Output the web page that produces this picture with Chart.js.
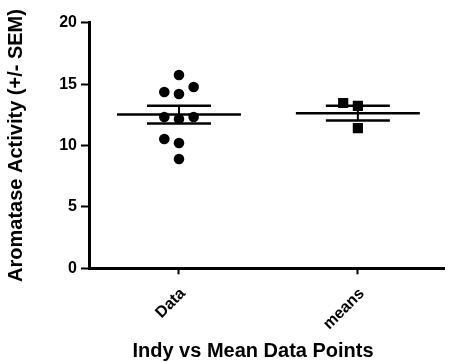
<!DOCTYPE html>
<html>
<head>
<meta charset="utf-8">
<script src="https://cdn.jsdelivr.net/npm/chart.js@4.4.1/dist/chart.umd.min.js"></script>
<style>
  html, body { margin: 0; padding: 0; background: #fff; }
  #wrap { width: 452px; height: 362px; position: relative; }
</style>
</head>
<body>
<div id="wrap"><canvas id="c" width="452" height="362"></canvas></div>
<script>
// ---- data ----
const categories = ['Data', 'means'];
const dataValues = [15.74, 14.36, 14.76, 14.19, 12.32, 12.16, 12.32, 10.53, 10.20, 8.90];
const dataColumns = [0, -1, 1, 0, -1, 0, 1, -1, 0, 0];
const meansValues = [13.46, 13.22, 11.42];
const meansColumns = [-1, 0, 0];
const groupMeans = [12.52, 12.63];
const groupSems = [0.72, 0.6];
const yTicks = [0, 5, 10, 15, 20];
const yTitle = 'Aromatase Activity (+/- SEM)';
const xTitle = 'Indy vs Mean Data Points';

const FONT = '"Liberation Sans", Arial, sans-serif';
const colStep = 0.082;

function toPoints(values, cols, idx) {
  return values.map((v, k) => ({ x: idx + 1 + cols[k] * colStep, y: v }));
}

const meanSemPlugin = {
  id: 'meanSem',
  beforeDatasetsDraw(chart) {
    const { ctx, scales: { x, y } } = chart;
    const seg = (x1, y1, x2, y2) => { ctx.beginPath(); ctx.moveTo(x1, y1); ctx.lineTo(x2, y2); ctx.stroke(); };
    ctx.save();
    ctx.strokeStyle = '#000';
    groupMeans.forEach((m, i) => {
      const cx = x.getPixelForValue(i + 1);
      const ym = y.getPixelForValue(m);
      const yt = y.getPixelForValue(m + groupSems[i]);
      const yb = y.getPixelForValue(m - groupSems[i]);
      ctx.lineWidth = 2.5;
      seg(cx - 62, ym, cx + 62, ym);
      seg(cx - 32, yt, cx + 32, yt);
      seg(cx - 32, yb, cx + 32, yb);
      ctx.lineWidth = 2;
      seg(cx, yt, cx, yb);
    });
    ctx.restore();
  }
};

const xTitlePlugin = {
  id: 'xTitle',
  afterDraw(chart) {
    const ctx = chart.ctx;
    ctx.save();
    ctx.font = 'bold 20px ' + FONT;
    ctx.fillStyle = '#000';
    ctx.textAlign = 'center';
    ctx.textBaseline = 'middle';
    ctx.fillText(xTitle, 253, 351);
    ctx.restore();
  }
};

new Chart(document.getElementById('c'), {
  type: 'scatter',
  data: {
    datasets: [
      {
        label: categories[0],
        data: toPoints(dataValues, dataColumns, 0),
        pointStyle: 'circle',
        pointRadius: 5.3,
        pointHoverRadius: 5.3,
        backgroundColor: '#000',
        borderColor: '#000',
        borderWidth: 0
      },
      {
        label: categories[1],
        data: toPoints(meansValues, meansColumns, 1),
        pointStyle: 'rect',
        pointRadius: 7.2,
        pointHoverRadius: 7.2,
        backgroundColor: '#000',
        borderColor: '#000',
        borderWidth: 0
      }
    ]
  },
  options: {
    responsive: false,
    animation: false,
    events: [],
    layout: { padding: { top: 22.7, right: 0, bottom: 0, left: 0 } },
    plugins: { legend: { display: false }, tooltip: { enabled: false } },
    scales: {
      x: {
        type: 'linear',
        min: 0.497,
        max: 2.486,
        afterBuildTicks(scale) { scale.ticks = [{ value: 1 }, { value: 2 }]; },
        afterFit(scale) { scale.height = 93.7; },
        ticks: {
          callback: (v) => categories[Math.round(v) - 1],
          minRotation: 45,
          maxRotation: 45,
          autoSkip: false,
          color: '#000',
          padding: 10,
          labelOffset: 4,
          font: { family: FONT, size: 16, weight: 'bold' }
        },
        grid: { display: true, drawOnChartArea: false, drawTicks: true, tickLength: 6, tickWidth: 2, tickColor: '#000' },
        border: { display: true, color: '#000', width: 3 },
        title: { display: false }
      },
      y: {
        type: 'linear',
        min: 0,
        max: 20,
        afterBuildTicks(scale) { scale.ticks = yTicks.map(v => ({ value: v })); },
        afterFit(scale) { scale.width = 89; },
        ticks: {
          color: '#000',
          padding: 4,
          font: { family: FONT, size: 16, weight: 'bold' }
        },
        grid: { display: true, drawOnChartArea: false, drawTicks: true, tickLength: 8, tickWidth: 2, tickColor: '#000' },
        border: { display: true, color: '#000', width: 3 },
        title: {
          display: true,
          text: yTitle,
          color: '#000',
          padding: { top: 4, bottom: 0 },
          font: { family: FONT, size: 20, weight: 'bold' }
        }
      }
    }
  },
  plugins: [meanSemPlugin, xTitlePlugin]
});
</script>
</body>
</html>
